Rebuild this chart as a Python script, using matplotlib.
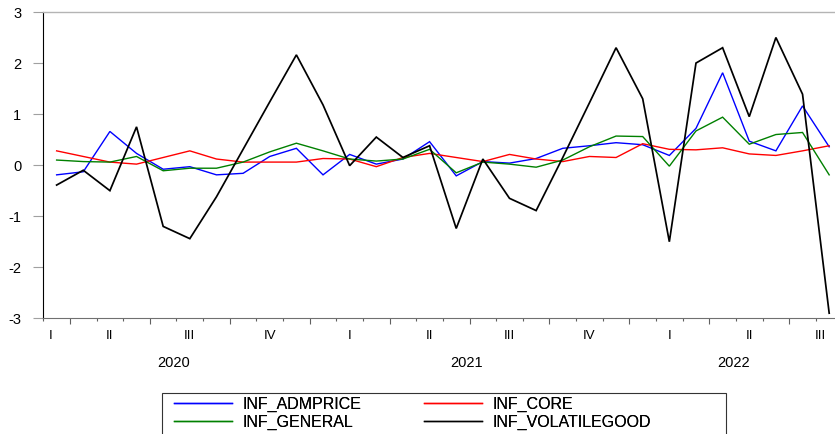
import numpy as np
import matplotlib
matplotlib.use("Agg")
import matplotlib.pyplot as plt
from matplotlib.patches import Rectangle
from matplotlib.lines import Line2D

# Monthly inflation components, March 2020 - August 2022
months = ["2020-03", "2020-04", "2020-05", "2020-06", "2020-07", "2020-08",
          "2020-09", "2020-10", "2020-11", "2020-12", "2021-01", "2021-02",
          "2021-03", "2021-04", "2021-05", "2021-06", "2021-07", "2021-08",
          "2021-09", "2021-10", "2021-11", "2021-12", "2022-01", "2022-02",
          "2022-03", "2022-04", "2022-05", "2022-06", "2022-07", "2022-08"]

inf_admprice = [-0.19, -0.13, 0.66, 0.23, -0.08, -0.03, -0.19, -0.16, 0.17, 0.33,
                -0.19, 0.21, 0.02, 0.12, 0.46, -0.21, 0.07, 0.04, 0.13, 0.33,
                0.38, 0.44, 0.40, 0.19, 0.72, 1.81, 0.47, 0.28, 1.16, 0.36]
inf_core = [0.28, 0.17, 0.06, 0.02, 0.15, 0.28, 0.12, 0.06, 0.06, 0.06,
            0.13, 0.12, -0.03, 0.15, 0.23, 0.15, 0.07, 0.21, 0.12, 0.07,
            0.17, 0.15, 0.42, 0.31, 0.30, 0.34, 0.22, 0.19, 0.28, 0.38]
inf_general = [0.10, 0.07, 0.06, 0.17, -0.11, -0.06, -0.06, 0.06, 0.26, 0.43,
               0.28, 0.12, 0.08, 0.12, 0.31, -0.15, 0.06, 0.02, -0.04, 0.10,
               0.36, 0.57, 0.56, -0.02, 0.67, 0.94, 0.41, 0.60, 0.64, -0.19]
inf_volatilegood = [-0.39, -0.10, -0.50, 0.75, -1.20, -1.44, -0.62, 0.31, 1.24, 2.16,
                    1.18, -0.01, 0.55, 0.15, 0.38, -1.24, 0.12, -0.65, -0.89, 0.15,
                    1.22, 2.30, 1.30, -1.50, 2.00, 2.30, 0.95, 2.50, 1.39, -2.90]

series_names = ["INF_ADMPRICE", "INF_CORE", "INF_GENERAL", "INF_VOLATILEGOOD"]
series_colors = ["#0000ff", "#ff0000", "#008000", "#000000"]

y_ticks = [3, 2, 1, 0, -1, -2, -3]
y_tick_labels = ["3", "2", "1", "0", "-1", "-2", "-3"]
quarter_names = ["I", "II", "III", "IV"]

plt.rcParams["font.family"] = ["Liberation Sans", "DejaVu Sans"]

W, H = 835, 434
fig = plt.figure(figsize=(W / 100, H / 100), dpi=100)

n = len(months)
x = np.arange(n)
x_lo, x_hi = -0.5, n - 0.5

# axes box in pixels: left 43.3, top 12, bottom 318.3, right edge runs past the canvas
ax_left, ax_top, ax_bottom = 43.3, 12.0, 318.3
px_per_month = 26.64
ax_right = ax_left + px_per_month * (x_hi - x_lo)
ax = fig.add_axes([ax_left / W, 1 - ax_bottom / H,
                   (ax_right - ax_left) / W, (ax_bottom - ax_top) / H])

data = [inf_admprice, inf_core, inf_general, inf_volatilegood]
widths = [1.0, 1.0, 1.0, 1.25]
for vals, name, col, lw in zip(data, series_names, series_colors, widths):
    ax.plot(x, vals, color=col, lw=lw, label=name, solid_joinstyle="miter")

ax.set_xlim(x_lo, x_hi)
ax.set_ylim(-3, 3)

# y axis
ax.set_yticks(y_ticks)
ax.set_yticklabels(y_tick_labels)
ax.tick_params(axis="y", direction="out", length=7.2, width=0.8, color="#a0a0a0",
               pad=8.5, labelsize=10.5, labelcolor="#000000")

# x axis: ticks at month boundaries, longer ones at quarter boundaries
years = [int(m[:4]) for m in months]
mons = [int(m[5:]) for m in months]
bounds = np.arange(x_lo, x_hi + 0.01, 1.0)
major_b, minor_b = [], []
for b in bounds:
    nxt = int(b + 0.5)
    if nxt < n and (mons[nxt] - 1) % 3 == 0:
        major_b.append(b)
    else:
        minor_b.append(b)
ax.set_xticks(major_b)
ax.set_xticks(minor_b, minor=True)
ax.set_xticklabels([])
ax.tick_params(axis="x", which="major", direction="out", length=4.4, width=0.8, color="#606060")
ax.tick_params(axis="x", which="minor", direction="out", length=2.2, width=0.8, color="#606060")

ax.spines["right"].set_visible(False)
ax.spines["left"].set_color("#000000")
ax.spines["left"].set_linewidth(0.8)
ax.spines["bottom"].set_color("#707070")
ax.spines["bottom"].set_linewidth(0.8)
ax.spines["top"].set_color("#b4b4b4")
ax.spines["top"].set_linewidth(1.0)

# quarter labels at the middle month of each quarter
xt = ax.get_xaxis_transform()
q_y = -17.7 / (ax_bottom - ax_top)
yr_y = -45.0 / (ax_bottom - ax_top)
first_q = (years[0], (mons[0] - 1) // 3)
last_q = (years[-1], (mons[-1] - 1) // 3)
yq, q = first_q
while (yq, q) <= last_q:
    mid_month = q * 3 + 2
    pos = (yq - years[0]) * 12 + (mid_month - mons[0])
    pos = min(max(pos, x_lo + 0.28), x_hi - 0.84)
    ax.text(pos, q_y, quarter_names[q], transform=xt, ha="center", va="center",
            fontsize=9.5, color="#000000")
    q += 1
    if q == 4:
        q = 0
        yq += 1

# year labels centred over each year's visible months
for yv in sorted(set(years)):
    idx = [i for i, v in enumerate(years) if v == yv]
    lo = max(idx[0] - 0.5, x_lo)
    hi = min(idx[-1] + 0.5, x_hi)
    ax.text((lo + hi) / 2 - 0.1, yr_y, str(yv), transform=xt, ha="center", va="center",
            fontsize=10.5, color="#000000")

# legend: framed box with two columns
box_l, box_r, box_t = 161.7, 725.7, 393.3
fig.patches.append(Rectangle((box_l / W, -0.05), (box_r - box_l) / W, 1 - box_t / H + 0.05,
                             transform=fig.transFigure, fill=False, edgecolor="#333333",
                             linewidth=0.8))

handles = [Line2D([], [], color=c, lw=1.0) for c in series_colors]
col_starts = [174.0, 424.3]
row_top = 397.0
for ci, col_x in enumerate(col_starts):
    hs = [handles[ci], handles[ci + 2]]
    ls = [series_names[ci], series_names[ci + 2]]
    leg = fig.legend(hs, ls, loc="upper left",
                     bbox_to_anchor=(col_x / W, 1 - row_top / H),
                     bbox_transform=fig.transFigure, frameon=False,
                     fontsize=11.5, handlelength=3.6, handletextpad=0.7,
                     borderpad=0.0, borderaxespad=0.0, labelspacing=0.17)
    fig.add_artist(leg)

fig.savefig("out.png", dpi=100)
